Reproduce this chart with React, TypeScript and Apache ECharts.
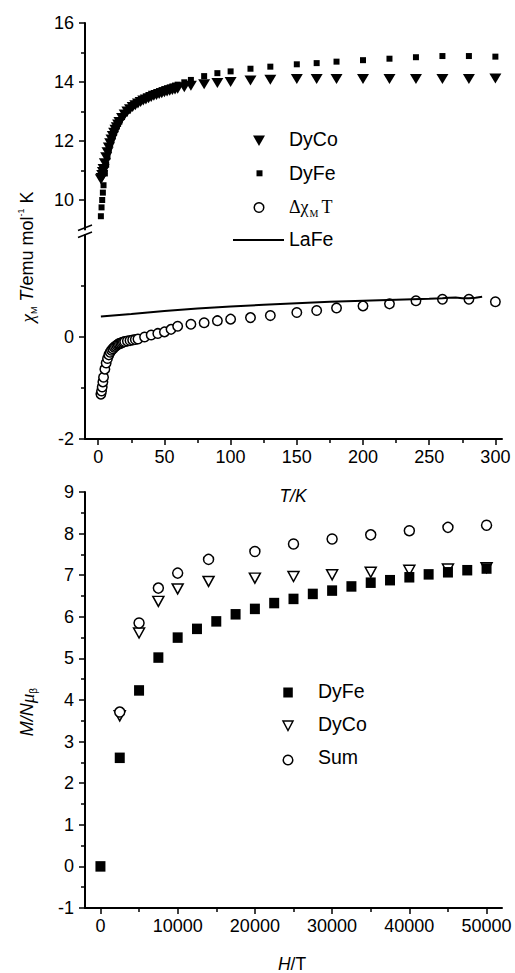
import React, { useEffect, useRef } from 'react';
import * as echarts from 'echarts';

// ---------- Data ----------
// Top panel: chi_M T vs T
const tempTicks = [0, 50, 100, 150, 200, 250, 300];
const tempMinorTicks = [25, 75, 125, 175, 225, 275];
const upperTicks = [10, 12, 14, 16];
const upperMinorTicks = [11, 13, 15];
const lowerTicks = [-2, 0];
const lowerMinorTicks = [-1, 1];

const tempDy = [2, 2.5, 3, 3.5, 4, 5, 6, 7, 8, 9, 10, 11, 12, 13, 14, 15, 16, 18, 20, 22, 24, 26, 28, 30, 32, 34, 36, 38, 40, 42, 44, 46, 48, 50, 52, 54, 56, 58, 60, 65, 70, 80, 90, 100, 115, 130, 150, 165, 180, 200, 220, 240, 260, 280, 300];
const dyCoChiT = [10.7, 10.75, 10.85, 10.95, 11.05, 11.25, 11.45, 11.62, 11.78, 11.92, 12.05, 12.17, 12.28, 12.38, 12.47, 12.56, 12.64, 12.78, 12.9, 13.0, 13.08, 13.15, 13.21, 13.27, 13.32, 13.37, 13.41, 13.45, 13.49, 13.53, 13.56, 13.59, 13.62, 13.65, 13.68, 13.7, 13.73, 13.75, 13.77, 13.82, 13.87, 13.92, 13.97, 14.0, 14.05, 14.08, 14.1, 14.1, 14.1, 14.1, 14.1, 14.1, 14.1, 14.1, 14.12];
const dyFeChiT = [9.45, 9.75, 10.0, 10.25, 10.5, 10.9, 11.2, 11.47, 11.7, 11.88, 12.03, 12.16, 12.28, 12.39, 12.49, 12.58, 12.66, 12.81, 12.93, 13.03, 13.12, 13.2, 13.27, 13.33, 13.39, 13.44, 13.49, 13.53, 13.57, 13.61, 13.65, 13.69, 13.72, 13.76, 13.79, 13.82, 13.85, 13.88, 13.91, 13.99, 14.07, 14.2, 14.3, 14.36, 14.45, 14.52, 14.6, 14.64, 14.69, 14.74, 14.79, 14.84, 14.88, 14.88, 14.86];

const tempDelta = [2, 2.5, 3, 3.5, 4, 5, 6, 7, 8, 9, 10, 11, 12, 13, 14, 15, 16, 17, 18, 19, 20, 22, 24, 26, 28, 30, 35, 40, 45, 50, 55, 60, 70, 80, 90, 100, 115, 130, 150, 165, 180, 200, 220, 240, 260, 280, 300];
const deltaChiT = [-1.12, -1.06, -0.98, -0.88, -0.79, -0.63, -0.51, -0.42, -0.35, -0.3, -0.26, -0.23, -0.2, -0.18, -0.16, -0.14, -0.13, -0.12, -0.11, -0.1, -0.09, -0.08, -0.07, -0.06, -0.05, -0.04, 0.0, 0.04, 0.07, 0.1, 0.15, 0.21, 0.25, 0.28, 0.32, 0.35, 0.38, 0.42, 0.48, 0.52, 0.57, 0.61, 0.65, 0.71, 0.74, 0.74, 0.69];

const tempLaFe = [2, 25, 50, 75, 100, 125, 150, 175, 200, 225, 250, 260, 265, 270, 275, 280, 285, 290];
const laFeChiT = [0.4, 0.45, 0.51, 0.56, 0.6, 0.63, 0.66, 0.69, 0.71, 0.73, 0.75, 0.76, 0.77, 0.775, 0.76, 0.76, 0.77, 0.79];

// Bottom panel: M/N mu_B vs H
const fieldTicks = [0, 10000, 20000, 30000, 40000, 50000];
const fieldMinorTicks = [5000, 15000, 25000, 35000, 45000];
const fieldDyFe = [0, 2500, 5000, 7500, 10000, 12500, 15000, 17500, 20000, 22500, 25000, 27500, 30000, 32500, 35000, 37500, 40000, 42500, 45000, 47500, 50000];
const dyFeM = [0, 2.61, 4.23, 5.02, 5.5, 5.71, 5.89, 6.06, 6.19, 6.33, 6.43, 6.55, 6.63, 6.73, 6.82, 6.88, 6.95, 7.02, 7.07, 7.12, 7.16];
const fieldCo = [2500, 5000, 7500, 10000, 14000, 20000, 25000, 30000, 35000, 40000, 45000, 50000];
const dyCoM = [3.62, 5.61, 6.37, 6.67, 6.85, 6.93, 6.97, 7.01, 7.07, 7.12, 7.15, 7.18];
const sumM = [3.71, 5.85, 6.69, 7.05, 7.38, 7.57, 7.75, 7.87, 7.97, 8.07, 8.15, 8.2];

// ---------- Helpers ----------
const zip = (xs: number[], ys: number[]) => xs.map((x, i) => [x, ys[i]]);
const SANS = '"Liberation Sans", Arial, Helvetica, sans-serif';
const SERIF = '"Liberation Serif", "Times New Roman", serif';
const tickLine = { color: '#000', width: 1.5 };
const labelStyle = { color: '#000', fontSize: 18, fontFamily: SANS };
const plainFmt = (v: number) => String(v);

function majorAxis(gridIndex: number, min: number, max: number, ticks: number[], position: string, margin: number) {
  return {
    type: 'value', gridIndex, min, max, position,
    axisLine: { show: true, onZero: false, lineStyle: { color: '#000', width: 2 } },
    axisTick: { show: true, customValues: ticks, length: 6, lineStyle: tickLine },
    axisLabel: { show: true, customValues: ticks, formatter: plainFmt, margin, ...labelStyle },
    splitLine: { show: false },
  };
}
function minorAxis(gridIndex: number, min: number, max: number, ticks: number[], position: string) {
  return {
    type: 'value', gridIndex, min, max, position,
    axisLine: { show: false, onZero: false },
    axisTick: { show: true, customValues: ticks, length: 4, lineStyle: tickLine },
    axisLabel: { show: false },
    splitLine: { show: false },
  };
}

function buildOption(): any {
  const graphic: any[] = [];
  // axis break marks
  graphic.push({ type: 'line', shape: { x1: 78, y1: 230.5, x2: 92, y2: 225 }, style: { stroke: '#000', lineWidth: 1.5 } });
  graphic.push({ type: 'line', shape: { x1: 78, y1: 237.5, x2: 92, y2: 232 }, style: { stroke: '#000', lineWidth: 1.5 } });

  // top legend
  graphic.push({ type: 'polygon', shape: { points: [[253, 135.5], [265, 135.5], [259, 146]] }, style: { fill: '#000' } });
  graphic.push({ type: 'text', x: 289, y: 139, style: { text: 'DyCo', font: `19.5px ${SANS}`, fill: '#000', verticalAlign: 'middle' } });
  graphic.push({ type: 'rect', shape: { x: 256.5, y: 170.3, width: 6, height: 6 }, style: { fill: '#000' } });
  graphic.push({ type: 'text', x: 289, y: 173, style: { text: 'DyFe', font: `19.5px ${SANS}`, fill: '#000', verticalAlign: 'middle' } });
  graphic.push({ type: 'circle', shape: { cx: 259, cy: 207.5, r: 4.8 }, style: { fill: '#fff', stroke: '#000', lineWidth: 1.5 } });
  graphic.push({
    type: 'text', x: 289, y: 207,
    style: {
      text: '{s|Δχ}{sub|M}{s|T}', verticalAlign: 'middle', fill: '#000',
      rich: {
        s: { fontFamily: SERIF, fontSize: 18, lineHeight: 22, fill: '#000' },
        sub: { fontFamily: SERIF, fontSize: 10, verticalAlign: 'bottom', padding: [0, 3, 0, 1], fill: '#000' },
      },
    },
  });
  graphic.push({ type: 'line', shape: { x1: 233, y1: 240, x2: 284, y2: 240 }, style: { stroke: '#000', lineWidth: 2 } });
  graphic.push({ type: 'text', x: 289, y: 239, style: { text: 'LaFe', font: `19.5px ${SANS}`, fill: '#000', verticalAlign: 'middle' } });

  // bottom legend
  graphic.push({ type: 'rect', shape: { x: 283.3, y: 687.5, width: 9.5, height: 10 }, style: { fill: '#000' } });
  graphic.push({ type: 'text', x: 318, y: 691, style: { text: 'DyFe', font: `19.5px ${SANS}`, fill: '#000', verticalAlign: 'middle' } });
  graphic.push({ type: 'polygon', shape: { points: [[283, 721], [293, 721], [288, 730.5]] }, style: { fill: '#fff', stroke: '#000', lineWidth: 1.5 } });
  graphic.push({ type: 'text', x: 318, y: 724, style: { text: 'DyCo', font: `19.5px ${SANS}`, fill: '#000', verticalAlign: 'middle' } });
  graphic.push({ type: 'circle', shape: { cx: 288, cy: 760, r: 4.8 }, style: { fill: '#fff', stroke: '#000', lineWidth: 1.5 } });
  graphic.push({ type: 'text', x: 318, y: 757, style: { text: 'Sum', font: `19.5px ${SANS}`, fill: '#000', verticalAlign: 'middle' } });

  // axis titles
  graphic.push({ type: 'text', x: 293, y: 496, style: { text: 'T/K', font: `italic 17.5px ${SANS}`, fill: '#000', align: 'center', verticalAlign: 'middle' } });
  graphic.push({
    type: 'text', x: 292, y: 964,
    style: {
      text: '{i|H}{n|/T}', align: 'center', verticalAlign: 'middle', fill: '#000',
      rich: {
        i: { fontFamily: SANS, fontStyle: 'italic', fontSize: 17.5, fill: '#000' },
        n: { fontFamily: SANS, fontSize: 17.5, fill: '#000' },
      },
    },
  });
  graphic.push({
    type: 'text', x: 27, y: 257, rotation: Math.PI / 2,
    style: {
      text: '{g|χ}{sub|M}{i| T}{n|/emu mol}{sup|-1}{n| K}', align: 'center', verticalAlign: 'middle', fill: '#000',
      rich: {
        g: { fontFamily: SERIF, fontStyle: 'italic', fontSize: 19, lineHeight: 22, fill: '#000' },
        sub: { fontFamily: SANS, fontSize: 9, verticalAlign: 'bottom', fill: '#000' },
        i: { fontFamily: SANS, fontStyle: 'italic', fontSize: 18, lineHeight: 22, fill: '#000' },
        n: { fontFamily: SANS, fontSize: 18, lineHeight: 22, fill: '#000' },
        sup: { fontFamily: SANS, fontSize: 9, verticalAlign: 'top', fill: '#000' },
      },
    },
  });
  graphic.push({
    type: 'text', x: 27, y: 712, rotation: Math.PI / 2,
    style: {
      text: '{i|M/N}{g|μ}{sub|β}', align: 'center', verticalAlign: 'middle', fill: '#000',
      rich: {
        i: { fontFamily: SANS, fontStyle: 'italic', fontSize: 18, lineHeight: 22, fill: '#000' },
        g: { fontFamily: SERIF, fontStyle: 'italic', fontSize: 19, lineHeight: 22, fill: '#000' },
        sub: { fontFamily: SANS, fontSize: 10, verticalAlign: 'bottom', fill: '#000' },
      },
    },
  });

  const solid = { color: '#000', opacity: 1 };
  const hollow = { color: '#fff', borderColor: '#000', borderWidth: 1.5, opacity: 1 };

  return {
    animation: false,
    backgroundColor: '#fff',
    grid: [
      { left: 85, top: 23, width: 417, height: 206.5 },
      { left: 85, top: 235, width: 417, height: 204 },
      { left: 85, top: 492, width: 417, height: 416 },
    ],
    xAxis: [
      { type: 'value', gridIndex: 0, min: -10, max: 305, show: false, axisLine: { onZero: false } },
      majorAxis(1, -10, 305, tempTicks, 'bottom', 9),
      minorAxis(1, -10, 305, tempMinorTicks, 'bottom'),
      majorAxis(2, -2000, 52000, fieldTicks, 'bottom', 9),
      minorAxis(2, -2000, 52000, fieldMinorTicks, 'bottom'),
    ],
    yAxis: [
      majorAxis(0, 9, 16, upperTicks, 'left', 11),
      minorAxis(0, 9, 16, upperMinorTicks, 'left'),
      majorAxis(1, -2, 2, lowerTicks, 'left', 11),
      minorAxis(1, -2, 2, lowerMinorTicks, 'left'),
      {
        type: 'value', gridIndex: 2, min: -1, max: 9, interval: 1, position: 'left',
        axisLine: { show: true, onZero: false, lineStyle: { color: '#000', width: 2 } },
        axisTick: { show: true, length: 6, lineStyle: tickLine },
        minorTick: { show: true, splitNumber: 2, length: 4, lineStyle: tickLine },
        axisLabel: { show: true, formatter: plainFmt, margin: 11, ...labelStyle },
        splitLine: { show: false },
        minorSplitLine: { show: false },
      },
    ],
    graphic,
    series: [
      {
        name: 'DyCo', type: 'scatter', xAxisIndex: 0, yAxisIndex: 0, silent: true,
        symbol: 'triangle', symbolRotate: 180, symbolSize: [12, 10],
        itemStyle: solid, data: zip(tempDy, dyCoChiT),
      },
      {
        name: 'DyFe', type: 'scatter', xAxisIndex: 0, yAxisIndex: 0, silent: true,
        symbol: 'rect', symbolSize: 6,
        itemStyle: solid, data: zip(tempDy, dyFeChiT),
      },
      {
        name: 'ΔχMT', type: 'scatter', xAxisIndex: 1, yAxisIndex: 2, silent: true,
        symbol: 'circle', symbolSize: 9.5,
        itemStyle: hollow, data: zip(tempDelta, deltaChiT),
      },
      {
        name: 'LaFe', type: 'line', xAxisIndex: 1, yAxisIndex: 2, silent: true, z: 5,
        showSymbol: false, symbol: 'none', lineStyle: { color: '#000', width: 2, opacity: 1 }, data: zip(tempLaFe, laFeChiT),
      },
      {
        name: 'DyCo M', type: 'scatter', xAxisIndex: 3, yAxisIndex: 4, silent: true,
        symbol: 'triangle', symbolRotate: 180, symbolSize: [11, 10],
        itemStyle: hollow, data: zip(fieldCo, dyCoM),
      },
      {
        name: 'Sum', type: 'scatter', xAxisIndex: 3, yAxisIndex: 4, silent: true,
        symbol: 'circle', symbolSize: 10,
        itemStyle: hollow, data: zip(fieldCo, sumM),
      },
      {
        name: 'DyFe M', type: 'scatter', xAxisIndex: 3, yAxisIndex: 4, silent: true,
        symbol: 'rect', symbolSize: [10, 10.5],
        itemStyle: solid, data: zip(fieldDyFe, dyFeM),
      },
    ],
  };
}

export default function App() {
  const ref = useRef<HTMLDivElement>(null);
  useEffect(() => {
    if (!ref.current) return;
    const chart = echarts.init(ref.current, null, { renderer: 'svg' });
    chart.setOption(buildOption());
    return () => chart.dispose();
  }, []);
  return (
    <div
      ref={ref}
      style={{ position: 'absolute', left: 0, top: 0, width: 515, height: 973, background: '#fff' }}
    />
  );
}
